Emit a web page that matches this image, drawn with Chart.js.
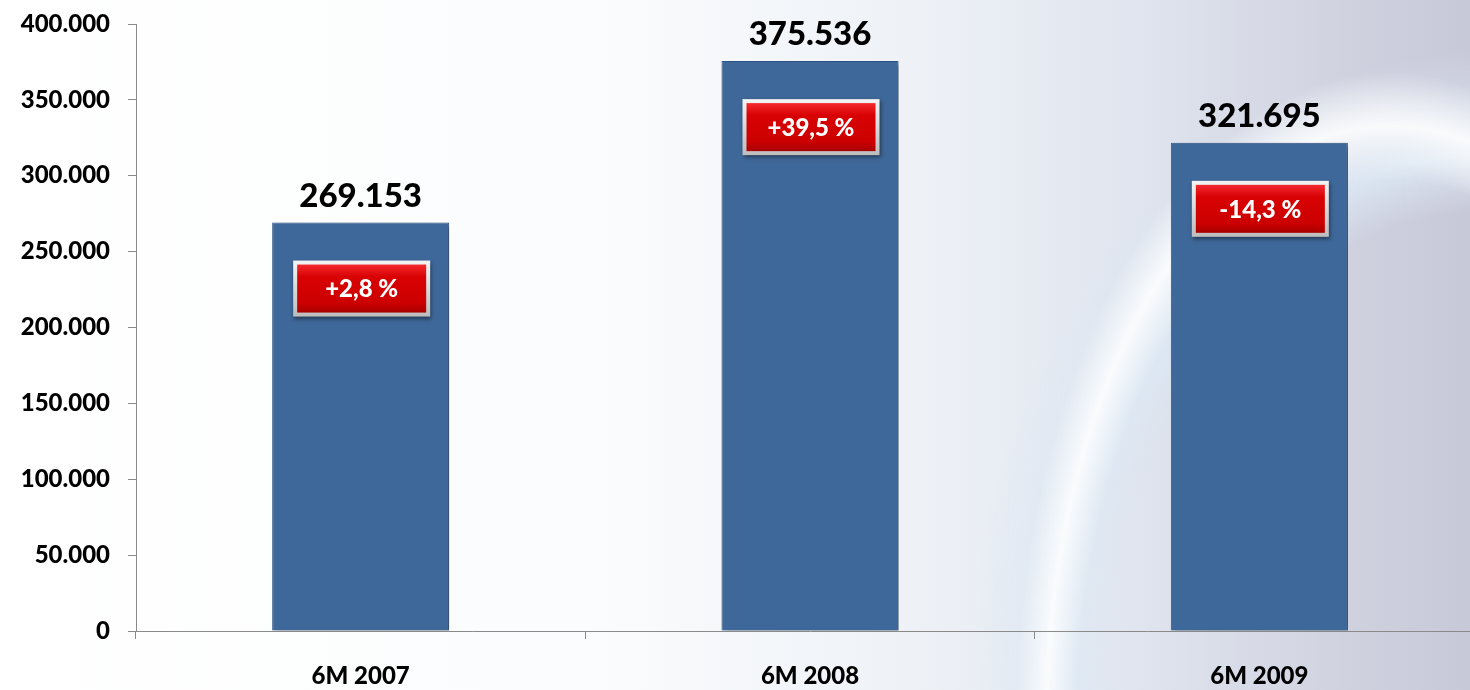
<!DOCTYPE html>
<html>
<head>
<meta charset="utf-8">
<script src="https://cdn.jsdelivr.net/npm/chart.js@4/dist/chart.umd.min.js"></script>
<style>
  html, body { margin: 0; padding: 0; overflow: hidden; }
  body {
    width: 1470px; height: 690px;
    background:
      radial-gradient(ellipse 520px 900px at 1390px 720px, rgba(255,255,255,0) 60%, rgba(255,255,255,0.85) 66%, rgba(255,255,255,0) 72%),
      radial-gradient(ellipse 700px 800px at 1500px 650px, rgba(255,255,255,0) 55%, rgba(220,232,244,0.9) 62%, rgba(255,255,255,0) 75%),
      linear-gradient(90deg, #ffffff 0%, #fbfcfd 40%, #eef2f7 62%, #dfe4ee 78%, #cfd1df 92%, #c8c9d8 100%);
  }
  #wrap { position: absolute; left: 0; top: 0; width: 1484px; height: 690px; }
</style>
</head>
<body>
<div id="wrap"><canvas id="chart"></canvas></div>
<script>
// half-year volumes with change vs previous year
const categories = ["6M 2007", "6M 2008", "6M 2009"];
const volumes = [269153, 375536, 321695];
const changeLabels = ["+2,8 %", "+39,5 %", "-14,3 %"];
const yTicks = [0, 50000, 100000, 150000, 200000, 250000, 300000, 350000, 400000];

const FONT = "Lato, 'Open Sans', sans-serif";

function fmt(v) {
  return v.toLocaleString("de-DE");
}

// bar drop shadow
const barShadow = {
  id: "barShadow",
  beforeDatasetDraw(chart) {
    const ctx = chart.ctx;
    ctx.save();
    ctx.shadowColor = "rgba(0,0,0,0.45)";
    ctx.shadowBlur = 5;
    ctx.shadowOffsetX = 3;
    ctx.shadowOffsetY = 2;
  },
  afterDatasetDraw(chart) {
    chart.ctx.restore();
  },
};

// value labels above bars and red change boxes inside
const barLabels = {
  id: "barLabels",
  afterDatasetsDraw(chart) {
    const ctx = chart.ctx;
    const meta = chart.getDatasetMeta(0);
    meta.data.forEach((bar, i) => {
      const x = bar.x;
      const top = bar.y;

      ctx.save();
      ctx.fillStyle = "#000";
      ctx.font = "900 33px " + FONT;
      ctx.textAlign = "center";
      ctx.textBaseline = "alphabetic";
      ctx.fillText(fmt(volumes[i]), x, top - 16);

      // box
      const w = 137, h = 56;
      const bx = x - w / 2 + 1;
      const by = top + 38;
      ctx.shadowColor = "rgba(0,0,0,0.45)";
      ctx.shadowBlur = 4;
      ctx.shadowOffsetX = 1;
      ctx.shadowOffsetY = 2;
      const g1 = ctx.createLinearGradient(0, by, 0, by + h);
      g1.addColorStop(0, "#f4f4f4");
      g1.addColorStop(1, "#bdbdbd");
      ctx.fillStyle = g1;
      ctx.fillRect(bx, by, w, h);
      ctx.shadowColor = "transparent";

      const g2 = ctx.createLinearGradient(0, by + 4, 0, by + h - 4);
      g2.addColorStop(0, "#f42a2e");
      g2.addColorStop(0.25, "#d80204");
      g2.addColorStop(0.8, "#cc0000");
      g2.addColorStop(1, "#a80000");
      ctx.fillStyle = g2;
      ctx.fillRect(bx + 4, by + 4, w - 8, h - 8);

      ctx.fillStyle = "#fff";
      ctx.font = "900 24px " + FONT;
      ctx.textBaseline = "middle";
      ctx.fillText(changeLabels[i], bx + w / 2, by + h / 2 + 1);
      ctx.restore();
    });
  },
};

const ctx = document.getElementById("chart").getContext("2d");
new Chart(ctx, {
  type: "bar",
  data: {
    labels: categories,
    datasets: [
      {
        data: volumes,
        backgroundColor: "#3e6899",
        borderColor: "#30588a",
        borderWidth: 1,
        categoryPercentage: 1,
        barPercentage: 0.394,
      },
    ],
  },
  options: {
    responsive: true,
    maintainAspectRatio: false,
    animation: false,
    layout: { padding: { top: 24, right: 0, left: 0, bottom: 0 } },
    plugins: {
      legend: { display: false },
      tooltip: { enabled: false },
    },
    scales: {
      x: {
        border: { color: "#8a8a8a", width: 1 },
        grid: { display: true, drawOnChartArea: false, tickLength: 8, color: "#8a8a8a" },
        ticks: {
          color: "#000",
          font: { family: FONT, size: 24, weight: "900" },
          padding: 23,
        },
        afterFit(scale) {
          scale.height = 59;
          scale.paddingLeft = 0;
          scale.paddingRight = 0;
        },
      },
      y: {
        min: 0,
        max: 400000,
        afterBuildTicks(scale) { scale.ticks = yTicks.map((v) => ({ value: v })); },
        border: { color: "#8a8a8a", width: 1 },
        grid: { display: true, drawOnChartArea: false, tickLength: 8, color: "#8a8a8a" },
        ticks: {
          color: "#000",
          font: { family: FONT, size: 24, weight: "900" },
          padding: 18,
          callback: (v) => fmt(v),
        },
        afterFit(scale) {
          scale.width = 136;
          scale.paddingTop = 0;
          scale.paddingBottom = 0;
        },
      },
    },
  },
  plugins: [barShadow, barLabels],
});
</script>
</body>
</html>
